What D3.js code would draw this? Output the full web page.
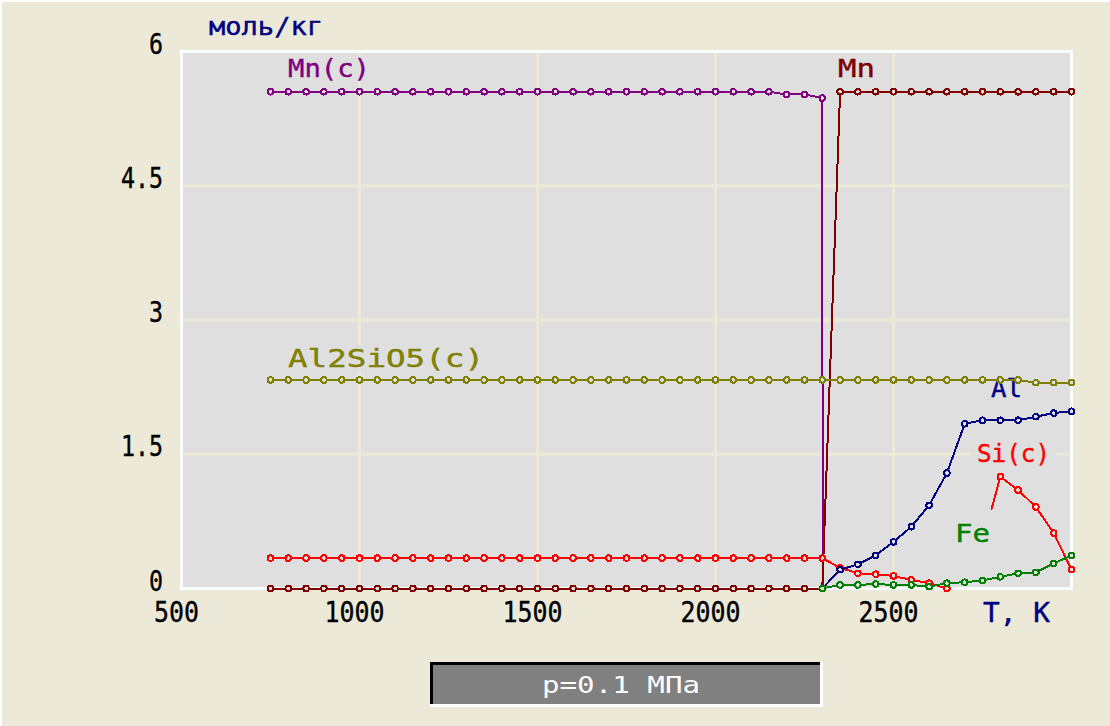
<!DOCTYPE html>
<html>
<head>
<meta charset="utf-8">
<script src="https://cdn.jsdelivr.net/npm/d3@7"></script>
<style>
  body { margin: 0; background: #ece9d8; }
  svg { display: block; }
  text { font-family: "DejaVu Sans Mono", monospace; }
</style>
</head>
<body>
<div id="chart"></div>
<script>
// temperatures, K
let tempsLow = [750, 800, 850, 900, 950, 1000, 1050, 1100, 1150, 1200, 1250, 1300, 1350, 1400, 1450, 1500,
  1550, 1600, 1650, 1700, 1750, 1800, 1850, 1900, 1950, 2000, 2050, 2100, 2150, 2200, 2250, 2300]
let tempsHigh = [2350, 2400, 2450, 2500, 2550, 2600, 2650, 2700, 2750, 2800, 2850, 2900, 2950, 3000]

// mol/kg
let mnCond = [5.55, 5.55, 5.55, 5.55, 5.55, 5.55, 5.55, 5.55, 5.55, 5.55, 5.55, 5.55, 5.55, 5.55, 5.55, 5.55,
  5.55, 5.55, 5.55, 5.55, 5.55, 5.55, 5.55, 5.55, 5.55, 5.55, 5.55, 5.55, 5.55, 5.52, 5.52, 5.48]
let mnCondDrop = [[2301, 0]]
let mnLow = [0, 0, 0, 0, 0, 0, 0, 0, 0, 0, 0, 0, 0, 0, 0, 0,
  0, 0, 0, 0, 0, 0, 0, 0, 0, 0, 0, 0, 0, 0, 0, 0]
let mnHigh = [5.55, 5.55, 5.55, 5.55, 5.55, 5.55, 5.55, 5.55, 5.55, 5.55, 5.55, 5.55, 5.55, 5.55]
let al2sio5Low = [2.33, 2.33, 2.33, 2.33, 2.33, 2.33, 2.33, 2.33, 2.33, 2.33, 2.33, 2.33, 2.33, 2.33, 2.33, 2.33,
  2.33, 2.33, 2.33, 2.33, 2.33, 2.33, 2.33, 2.33, 2.33, 2.33, 2.33, 2.33, 2.33, 2.33, 2.33, 2.33]
let al2sio5High = [2.33, 2.33, 2.33, 2.33, 2.33, 2.33, 2.33, 2.33, 2.33, 2.33, 2.33, 2.30, 2.30, 2.30]
let siCondLow = [0.34, 0.34, 0.34, 0.34, 0.34, 0.34, 0.34, 0.34, 0.34, 0.34, 0.34, 0.34, 0.34, 0.34, 0.34, 0.34,
  0.34, 0.34, 0.34, 0.34, 0.34, 0.34, 0.34, 0.34, 0.34, 0.34, 0.34, 0.34, 0.34, 0.34, 0.34, 0.34]
let siCondHigh = [0.23, 0.17, 0.16, 0.14, 0.095, 0.06, 0.0, null, null, 1.25, 1.10, 0.91, 0.62, 0.21]
let siCondReturn = [[2775, 0.88]]
let alHigh = [0.21, 0.27, 0.37, 0.52, 0.69, 0.93, 1.29, 1.84, 1.88, 1.88, 1.88, 1.92, 1.96, 1.98]
let feHigh = [0.04, 0.04, 0.05, 0.04, 0.04, 0.02, 0.06, 0.07, 0.09, 0.13, 0.17, 0.18, 0.28, 0.37]

let xTicks = [500, 1000, 1500, 2000, 2500]
let yTicks = [0, 1.5, 3, 4.5, 6]
let yTickLabels = ["0", "1.5", "3", "4.5", "6"]

let zip = (ts, vs) => ts.map((t, i) => ({t: t, v: vs[i], mark: true}))
let extra = pts => pts.map(p => ({t: p[0], v: p[1], mark: false}))

let series = [
  {name: "Mn(c)", color: "#800080",
   points: zip(tempsLow, mnCond).concat(extra(mnCondDrop))},
  {name: "Mn", color: "#800000",
   points: zip(tempsLow, mnLow).concat(zip(tempsHigh, mnHigh))},
  {name: "Si(c)", color: "#ff0000",
   points: zip(tempsLow, siCondLow).concat(zip(tempsHigh, siCondHigh))},
  {name: "Al", color: "#000080",
   points: [{t: 2300, v: 0, mark: false}].concat(zip(tempsHigh, alHigh))},
  {name: "Al2SiO5(c)", color: "#808000",
   points: zip(tempsLow, al2sio5Low).concat(zip(tempsHigh, al2sio5High))},
  {name: "Fe", color: "#008000",
   points: [{t: 2300, v: 0, mark: true}].concat(zip(tempsHigh, feHigh))}
]
// the Si(c) line comes back with an unmarked start point
let siReturn = extra(siCondReturn)[0]
let siPts = series[2].points
siPts.splice(siPts.findIndex(d => d.t === 2800), 0, siReturn)

let width = 1110, height = 726

let xScale = d3.scaleLinear().domain([500, 3000]).range([181.5, 1071.5])
let yScale = d3.scaleLinear().domain([0, 6]).range([588.5, 51.5])

let svg = d3.select("#chart").append("svg")
    .attr("width", width)
    .attr("height", height)

svg.append("rect")
  .attr("width", width).attr("height", height)
  .attr("fill", "#ece9d8")
// light window edge
svg.append("rect").attr("width", width).attr("height", 2).attr("fill", "#ffffff")
svg.append("rect").attr("width", 2).attr("height", height).attr("fill", "#ffffff")

// plot area
svg.append("rect")
  .attr("x", xScale(500)).attr("y", yScale(6))
  .attr("width", xScale(3000) - xScale(500))
  .attr("height", yScale(0) - yScale(6))
  .attr("fill", "#dfdfdf")

// grid
let grid = svg.append("g").attr("stroke", "#ece9d8").attr("stroke-width", 3)
grid.selectAll(".vg").data(xTicks.slice(1)).enter().append("line")
  .attr("x1", d => xScale(d)).attr("x2", d => xScale(d))
  .attr("y1", yScale(6)).attr("y2", yScale(0))
grid.selectAll(".hg").data(yTicks.slice(1, -1)).enter().append("line")
  .attr("x1", xScale(500)).attr("x2", xScale(3000))
  .attr("y1", d => yScale(d)).attr("y2", d => yScale(d))

// frame
svg.append("rect")
  .attr("x", xScale(500)).attr("y", yScale(6))
  .attr("width", xScale(3000) - xScale(500))
  .attr("height", yScale(0) - yScale(6))
  .attr("fill", "none")
  .attr("stroke", "#ffffff")
  .attr("stroke-width", 3)

function addText(g, str, x, y, size, len, color, anchor) {
  return g.append("text")
    .attr("x", x).attr("y", y)
    .attr("font-size", size)
    .attr("fill", color)
    .attr("stroke", color)
    .attr("stroke-width", 0.4)
    .attr("text-anchor", anchor || "start")
    .attr("textLength", len)
    .attr("lengthAdjust", "spacingAndGlyphs")
    .text(str)
}

// tick labels
let axisG = svg.append("g")
yTicks.forEach((d, i) => {
  let s = yTickLabels[i]
  addText(axisG, s, 163, yScale(d) + 2, 29, s.length * 14, "#000000", "end")
})
xTicks.forEach(d => {
  let s = String(d)
  addText(axisG, s, xScale(d) - 5, 622, 29, s.length * 15, "#000000", "middle")
})
addText(axisG, "моль/кг", 209, 35, 24, 114, "#000080")
addText(axisG, "T, K", 983, 622, 26, 67, "#000080")

// series labels (with plot-coloured backing, lines drawn over them)
let labelPos = {
  "Mn(c)": [288, 77, 82],
  "Mn": [838, 77, 37],
  "Al2SiO5(c)": [288, 367, 196],
  "Al": [991, 397, 31],
  "Si(c)": [977, 462, 73],
  "Fe": [955, 542, 35]
}
let labels = svg.append("g")
series.forEach(s => {
  let p = labelPos[s.name]
  labels.append("rect")
    .attr("x", p[0] - 6).attr("y", p[1] - 22)
    .attr("width", p[2] + 12).attr("height", 26)
    .attr("fill", "#dfdfdf")
  addText(labels, s.name, p[0], p[1], 25, p[2], s.color)
})

// lines and markers
let line = d3.line()
  .defined(d => d.v !== null)
  .x(d => xScale(d.t))
  .y(d => yScale(d.v))

let lines = svg.append("g")
series.forEach(s => {
  let g = lines.append("g").attr("shape-rendering", "crispEdges")
  g.append("path")
    .datum(s.points)
    .attr("d", line)
    .attr("fill", "none")
    .attr("stroke", s.color)
    .attr("stroke-width", 2)
  g.selectAll("circle")
    .data(s.points.filter(d => d.mark && d.v !== null))
    .enter().append("circle")
    .attr("cx", d => xScale(d.t))
    .attr("cy", d => yScale(d.v))
    .attr("r", 2.8)
    .attr("fill", "#dfdfdf")
    .attr("stroke", s.color)
    .attr("stroke-width", 2)
})

// pressure box
let box = svg.append("g")
box.append("rect")
  .attr("x", 430).attr("y", 662).attr("width", 393).attr("height", 45)
  .attr("fill", "#ffffff")
box.append("rect")
  .attr("x", 430).attr("y", 662).attr("width", 390).attr("height", 42)
  .attr("fill", "#000000")
box.append("rect")
  .attr("x", 433).attr("y", 665).attr("width", 387).attr("height", 39)
  .attr("fill", "#808080")
box.append("text")
  .attr("x", 621).attr("y", 693)
  .attr("font-size", 23)
  .attr("fill", "#ffffff")
  .attr("text-anchor", "middle")
  .attr("textLength", 158)
  .attr("lengthAdjust", "spacingAndGlyphs")
  .text("p=0.1 МПа")
</script>
</body>
</html>
